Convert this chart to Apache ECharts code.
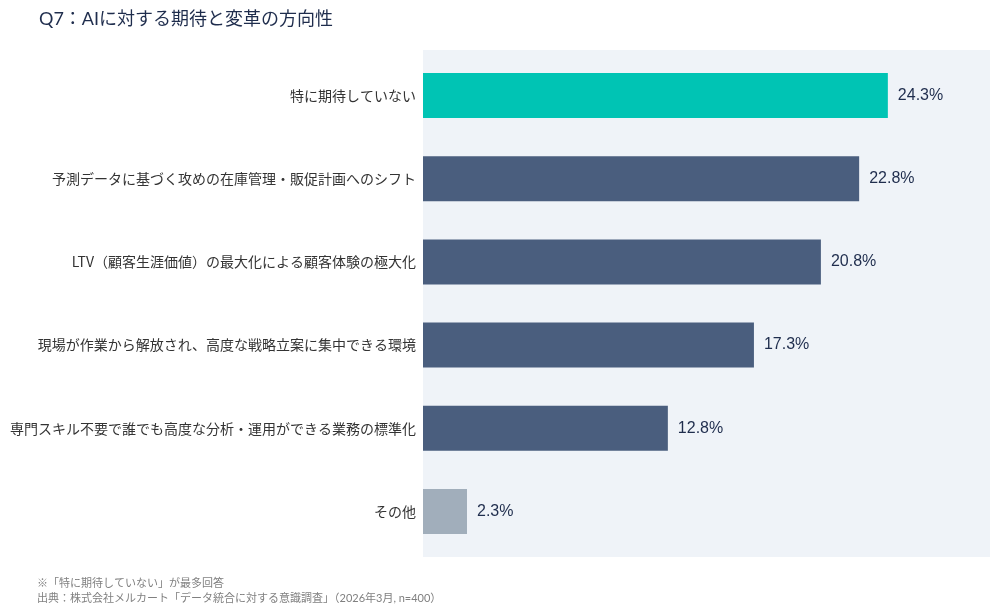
<!DOCTYPE html>
<html><head><meta charset="utf-8">
<script src="https://cdn.jsdelivr.net/npm/echarts@6/dist/echarts.min.js"></script>
<style>html,body{margin:0;padding:0;background:#fff}#c{width:1000px;height:613px}</style>
</head><body><div id="c"></div>
<script>
const categories = [
  "特に期待していない",
  "予測データに基づく攻めの在庫管理・販促計画へのシフト",
  "LTV（顧客生涯価値）の最大化による顧客体験の極大化",
  "現場が作業から解放され、高度な戦略立案に集中できる環境",
  "専門スキル不要で誰でも高度な分析・運用ができる業務の標準化",
  "その他"
];
const values = [24.3, 22.8, 20.8, 17.3, 12.8, 2.3];
const barColors = ["#00c4b4", "#4a5e7e", "#4a5e7e", "#4a5e7e", "#4a5e7e", "#a1aebb"];
const titleText = "Q7：AIに対する期待と変革の方向性";
const noteLines = [
  "※「特に期待していない」が最多回答",
  "出典：株式会社メルカート「データ統合に対する意識調査」（2026年3月, n=400）"
];
const FONT = "Lato, 'Noto Sans CJK JP', sans-serif";
const NUMFONT = "'Liberation Sans', Arial, sans-serif";
const chart = echarts.init(document.getElementById('c'), null, {renderer: 'canvas'});
chart.setOption({
  animation: false,
  backgroundColor: '#ffffff',
  title: {
    text: titleText, left: 34, top: 5,
    textStyle: {fontFamily: FONT, fontSize: 18, fontWeight: 'normal', color: '#1f2d4d'}
  },
  graphic: [
    {type: 'rect', z: -10, shape: {x: 423, y: 50, width: 567, height: 507}, style: {fill: '#eff3f8'}, silent: true},
    {type: 'text', left: 37, top: 576, style: {text: noteLines.join('\n'), fontFamily: FONT, fontSize: 11, lineHeight: 15, fill: '#808080'}}
  ],
  grid: {left: 423, top: 54, width: 567, height: 499, containLabel: false},
  xAxis: {
    type: 'value', min: 0, max: 29.64, show: false
  },
  yAxis: {
    type: 'category', data: categories, inverse: true,
    axisLine: {show: false}, axisTick: {show: false}, splitLine: {show: false},
    axisLabel: {fontFamily: "'Noto Sans CJK JP', sans-serif", fontSize: 14, color: '#333', margin: 7}
  },
  series: [{
    type: 'bar', barWidth: 45,
    data: values.map((v, i) => ({value: v, itemStyle: {color: barColors[i]}})),
    label: {show: true, position: 'right', distance: 10, formatter: p => p.value.toFixed(1) + '%',
      fontFamily: NUMFONT, fontSize: 16, color: '#1f2d4d'}
  }]
});
</script></body></html>
